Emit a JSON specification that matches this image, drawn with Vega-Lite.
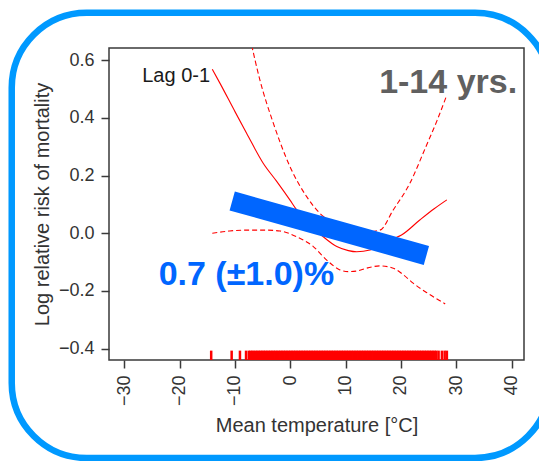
{
  "$schema": "https://vega.github.io/schema/vega-lite/v6.json",
  "width": 415,
  "height": 312,
  "autosize": "none",
  "padding": {"left": 109, "top": 48, "right": 15, "bottom": 101},
  "background": "white",
  "config": {
    "font": "Liberation Sans",
    "view": {"stroke": "#3a3a3a", "strokeWidth": 1.5},
    "axis": {
      "domain": false,
      "grid": false,
      "ticks": true,
      "tickSize": 8,
      "tickWidth": 1.5,
      "tickColor": "#3a3a3a",
      "labelFont": "Liberation Sans",
      "labelFontSize": 18,
      "labelColor": "#333333",
      "labelPadding": 7,
      "titleFont": "Liberation Sans",
      "titleFontSize": 20,
      "titleFontWeight": "normal",
      "titleColor": "#333333"
    }
  },
  "datasets": {
    "curves": [
      {"series": "est", "x": -14.1, "y": 0.569},
      {"series": "est", "x": -12.7, "y": 0.52},
      {"series": "est", "x": -10.0, "y": 0.422},
      {"series": "est", "x": -7.9, "y": 0.347},
      {"series": "est", "x": -4.9, "y": 0.243},
      {"series": "est", "x": -2.46, "y": 0.18},
      {"series": "est", "x": -0.05, "y": 0.115},
      {"series": "est", "x": 1.16, "y": 0.081},
      {"series": "est", "x": 3.5, "y": 0.03},
      {"series": "est", "x": 5.96, "y": -0.012},
      {"series": "est", "x": 8.4, "y": -0.046},
      {"series": "est", "x": 10.5, "y": -0.06},
      {"series": "est", "x": 12.0, "y": -0.064},
      {"series": "est", "x": 14.4, "y": -0.058},
      {"series": "est", "x": 16.5, "y": -0.04},
      {"series": "est", "x": 18.5, "y": -0.02},
      {"series": "est", "x": 20.1, "y": -0.006},
      {"series": "est", "x": 23.4, "y": 0.046},
      {"series": "est", "x": 26.0, "y": 0.085},
      {"series": "est", "x": 28.3, "y": 0.116},
      {"series": "upper", "x": -7.3, "y": 0.68},
      {"series": "upper", "x": -5.5, "y": 0.532},
      {"series": "upper", "x": -3.07, "y": 0.382},
      {"series": "upper", "x": -0.05, "y": 0.231},
      {"series": "upper", "x": 2.96, "y": 0.127},
      {"series": "upper", "x": 5.37, "y": 0.069},
      {"series": "upper", "x": 8.0, "y": 0.035},
      {"series": "upper", "x": 11.0, "y": 0.012},
      {"series": "upper", "x": 13.5, "y": 0.005},
      {"series": "upper", "x": 16.2, "y": 0.011},
      {"series": "upper", "x": 18.6, "y": 0.081},
      {"series": "upper", "x": 21.6, "y": 0.173},
      {"series": "upper", "x": 24.5, "y": 0.3},
      {"series": "upper", "x": 26.5, "y": 0.39},
      {"series": "upper", "x": 28.3, "y": 0.48},
      {"series": "lower", "x": -14.1, "y": 0.0},
      {"series": "lower", "x": -11.0, "y": 0.008},
      {"series": "lower", "x": -7.9, "y": 0.011},
      {"series": "lower", "x": -4.5, "y": 0.011},
      {"series": "lower", "x": -1.86, "y": 0.008},
      {"series": "lower", "x": 1.16, "y": -0.012},
      {"series": "lower", "x": 4.16, "y": -0.046},
      {"series": "lower", "x": 6.58, "y": -0.093},
      {"series": "lower", "x": 8.98, "y": -0.127},
      {"series": "lower", "x": 10.5, "y": -0.133},
      {"series": "lower", "x": 12.0, "y": -0.131},
      {"series": "lower", "x": 14.0, "y": -0.12},
      {"series": "lower", "x": 16.2, "y": -0.113},
      {"series": "lower", "x": 18.6, "y": -0.121},
      {"series": "lower", "x": 20.5, "y": -0.145},
      {"series": "lower", "x": 22.2, "y": -0.173},
      {"series": "lower", "x": 25.0, "y": -0.21},
      {"series": "lower", "x": 28.0, "y": -0.245}
    ],
    "trend": [
      {"x": -10.5, "y": 0.112},
      {"x": 24.6, "y": -0.077}
    ],
    "rug": [
      {"t": -14.3}, {"t": -10.6}, {"t": -9.1}, {"t": -8.0}, {"t": -7.5},
      {"t": -7.2}, {"t": -6.9}, {"t": -6.6}, {"t": -6.3}, {"t": -6.0}, {"t": -5.7}, {"t": -5.4}, {"t": -5.1}, {"t": -4.8}, {"t": -4.5},
      {"t": -4.2}, {"t": -3.9}, {"t": -3.6}, {"t": -3.3}, {"t": -3.0}, {"t": -2.7}, {"t": -2.4}, {"t": -2.1}, {"t": -1.8}, {"t": -1.5},
      {"t": -1.2}, {"t": -0.9}, {"t": -0.6}, {"t": -0.3}, {"t": 0.0}, {"t": 0.3}, {"t": 0.6}, {"t": 0.9}, {"t": 1.2}, {"t": 1.5},
      {"t": 1.8}, {"t": 2.1}, {"t": 2.4}, {"t": 2.7}, {"t": 3.0}, {"t": 3.3}, {"t": 3.6}, {"t": 3.9}, {"t": 4.2}, {"t": 4.5},
      {"t": 4.8}, {"t": 5.1}, {"t": 5.4}, {"t": 5.7}, {"t": 6.0}, {"t": 6.3}, {"t": 6.6}, {"t": 6.9}, {"t": 7.2}, {"t": 7.5},
      {"t": 7.8}, {"t": 8.1}, {"t": 8.4}, {"t": 8.7}, {"t": 9.0}, {"t": 9.3}, {"t": 9.6}, {"t": 9.9}, {"t": 10.2}, {"t": 10.5},
      {"t": 10.8}, {"t": 11.1}, {"t": 11.4}, {"t": 11.7}, {"t": 12.0}, {"t": 12.3}, {"t": 12.6}, {"t": 12.9}, {"t": 13.2}, {"t": 13.5},
      {"t": 13.8}, {"t": 14.1}, {"t": 14.4}, {"t": 14.7}, {"t": 15.0}, {"t": 15.3}, {"t": 15.6}, {"t": 15.9}, {"t": 16.2}, {"t": 16.5},
      {"t": 16.8}, {"t": 17.1}, {"t": 17.4}, {"t": 17.7}, {"t": 18.0}, {"t": 18.3}, {"t": 18.6}, {"t": 18.9}, {"t": 19.2}, {"t": 19.5},
      {"t": 19.8}, {"t": 20.1}, {"t": 20.4}, {"t": 20.7}, {"t": 21.0}, {"t": 21.3}, {"t": 21.6}, {"t": 21.9}, {"t": 22.2}, {"t": 22.5},
      {"t": 22.8}, {"t": 23.1}, {"t": 23.4}, {"t": 23.7}, {"t": 24.0}, {"t": 24.3}, {"t": 24.6}, {"t": 24.9}, {"t": 25.2}, {"t": 25.5},
      {"t": 25.8}, {"t": 26.1}, {"t": 26.4},
      {"t": 26.8}, {"t": 27.4}, {"t": 27.9}, {"t": 28.3}
    ]
  },
  "layer": [
    {
      "data": {"values": [{}]},
      "mark": {"type": "rect", "clip": false, "filled": false, "stroke": "#0099ff", "strokeWidth": 6.5, "cornerRadius": 75},
      "encoding": {
        "x": {
          "datum": -50.35, "type": "quantitative",
          "scale": {"domain": [-32.77, 42.24], "nice": false, "zero": false},
          "axis": {"values": [-30, -20, -10, 0, 10, 20, 30, 40], "labelAngle": -90, "titlePadding": 10},
          "title": "Mean temperature [°C]"
        },
        "x2": {"datum": 46.94},
        "y": {
          "datum": 0.765, "type": "quantitative",
          "scale": {"domain": [-0.4395, 0.6427], "nice": false, "zero": false},
          "axis": {"values": [-0.4, -0.2, 0, 0.2, 0.4, 0.6], "format": ".1f", "titlePadding": 6},
          "title": "Log relative risk of mortality"
        },
        "y2": {"datum": -0.7794}
      }
    },
    {
      "data": {"name": "curves"},
      "transform": [{"filter": "datum.series === 'est'"}],
      "mark": {"type": "line", "clip": true, "color": "#ff0000", "strokeWidth": 1.1, "interpolate": "monotone"},
      "encoding": {
        "x": {"field": "x", "type": "quantitative", "title": "Mean temperature [°C]"},
        "y": {"field": "y", "type": "quantitative", "title": "Log relative risk of mortality"}
      }
    },
    {
      "data": {"name": "curves"},
      "transform": [{"filter": "datum.series !== 'est'"}],
      "mark": {"type": "line", "clip": true, "color": "#ff0000", "strokeWidth": 1.1, "strokeDash": [5, 3], "interpolate": "monotone"},
      "encoding": {
        "x": {"field": "x", "type": "quantitative", "title": "Mean temperature [°C]"},
        "y": {"field": "y", "type": "quantitative", "title": "Log relative risk of mortality"},
        "detail": {"field": "series"}
      }
    },
    {
      "data": {"name": "rug"},
      "mark": {"type": "rule", "color": "#ff0000", "strokeWidth": 2.5},
      "encoding": {
        "x": {"field": "t", "type": "quantitative", "title": "Mean temperature [°C]"},
        "y": {"datum": -0.407, "type": "quantitative", "title": "Log relative risk of mortality"},
        "y2": {"datum": -0.4395}
      }
    },
    {
      "data": {"name": "trend"},
      "mark": {"type": "line", "color": "#0066ff", "strokeWidth": 19.5, "strokeCap": "butt"},
      "encoding": {
        "x": {"field": "x", "type": "quantitative", "title": "Mean temperature [°C]"},
        "y": {"field": "y", "type": "quantitative", "title": "Log relative risk of mortality"}
      }
    },
    {
      "data": {"values": [{}]},
      "mark": {"type": "text", "text": "Lag 0-1", "align": "right", "baseline": "alphabetic", "fontSize": 20, "color": "#1a1a1a", "font": "Liberation Sans"},
      "encoding": {
        "x": {"datum": -14.5, "type": "quantitative", "title": "Mean temperature [°C]"},
        "y": {"datum": 0.526, "type": "quantitative", "title": "Log relative risk of mortality"}
      }
    },
    {
      "data": {"values": [{}]},
      "mark": {"type": "text", "text": "1-14 yrs.", "align": "right", "baseline": "alphabetic", "fontSize": 34, "fontWeight": "bold", "color": "#606060", "font": "Liberation Sans"},
      "encoding": {
        "x": {"datum": 41.0, "type": "quantitative", "title": "Mean temperature [°C]"},
        "y": {"datum": 0.486, "type": "quantitative", "title": "Log relative risk of mortality"}
      }
    },
    {
      "data": {"values": [{}]},
      "mark": {"type": "text", "text": "0.7 (±1.0)%", "align": "left", "baseline": "alphabetic", "fontSize": 34, "fontWeight": "bold", "color": "#0066ff", "font": "Liberation Sans"},
      "encoding": {
        "x": {"datum": -23.8, "type": "quantitative", "title": "Mean temperature [°C]"},
        "y": {"datum": -0.179, "type": "quantitative", "title": "Log relative risk of mortality"}
      }
    }
  ]
}
